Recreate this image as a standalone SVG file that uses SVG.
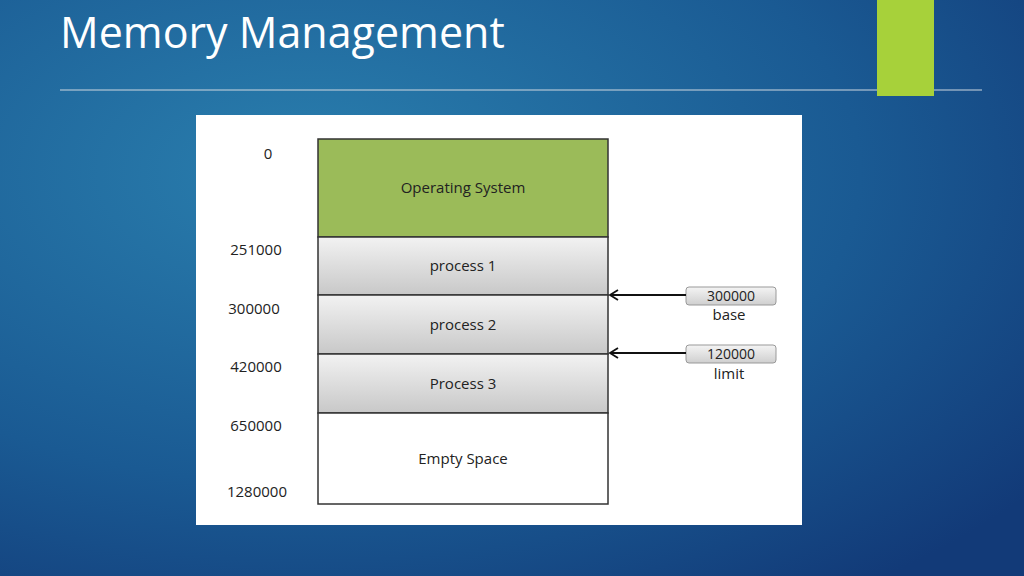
<svg xmlns="http://www.w3.org/2000/svg" width="1024" height="576" viewBox="0 0 1024 576">
<defs>
<radialGradient id="bg" cx="0.3" cy="0.3" r="0.9">
<stop offset="0" stop-color="#2a7fae"/><stop offset="0.6" stop-color="#1a5a93"/><stop offset="1" stop-color="#123a78"/>
</radialGradient>
<linearGradient id="proc" x1="0" y1="0" x2="0" y2="1">
<stop offset="0" stop-color="#f2f2f2"/><stop offset="1" stop-color="#c8c8c8"/>
</linearGradient>
<linearGradient id="tag" x1="0" y1="0" x2="0" y2="1">
<stop offset="0" stop-color="#f4f4f4"/><stop offset="1" stop-color="#cfcfcf"/>
</linearGradient>
<marker id="ah" markerWidth="12" markerHeight="12" refX="10" refY="6" orient="auto" markerUnits="userSpaceOnUse">
<path d="M2,1 L10,6 L2,11" fill="none" stroke="#111" stroke-width="1.8"/>
</marker>
<style>
.t{font-family:"Open Sans","Liberation Sans",sans-serif;font-size:15px;fill:#222}
.s{font-size:14px}
.blk{stroke:#333;stroke-width:1.5}
</style>
</defs>
<rect width="1024" height="576" fill="url(#bg)"/>
<text x="60" y="48" font-family="'Open Sans','Liberation Sans',sans-serif" font-size="43" fill="#ffffff">Memory Management</text>
<line x1="60" y1="90" x2="982" y2="90" stroke="#cfd8e0" stroke-width="1"/>
<rect x="877" y="0" width="57" height="96" fill="#a7d13a"/>
<rect x="196" y="115" width="606" height="410" fill="#ffffff"/>
<g id="os"><rect class="blk" x="318" y="139" width="290" height="98" fill="#9bbb59"/><text class="t" x="463" y="193" text-anchor="middle">Operating System</text></g>
<g id="p1"><rect class="blk" x="318" y="237" width="290" height="58" fill="url(#proc)"/><text class="t" x="463" y="271" text-anchor="middle">process 1</text></g>
<g id="p2"><rect class="blk" x="318" y="295" width="290" height="59" fill="url(#proc)"/><text class="t" x="463" y="330" text-anchor="middle">process 2</text></g>
<g id="p3"><rect class="blk" x="318" y="354" width="290" height="59" fill="url(#proc)"/><text class="t" x="463" y="389" text-anchor="middle">Process 3</text></g>
<g id="empty"><rect class="blk" x="318" y="413" width="290" height="91" fill="#ffffff"/><text class="t" x="463" y="464" text-anchor="middle">Empty Space</text></g>
<g id="addr">
<text class="t" x="268" y="159" text-anchor="middle">0</text>
<text class="t" x="256" y="255" text-anchor="middle">251000</text>
<text class="t" x="254" y="314" text-anchor="middle">300000</text>
<text class="t" x="256" y="372" text-anchor="middle">420000</text>
<text class="t" x="256" y="431" text-anchor="middle">650000</text>
<text class="t" x="257" y="497" text-anchor="middle">1280000</text>
</g>
<g id="base"><rect x="686" y="287" width="90" height="18" rx="3" fill="url(#tag)" stroke="#999"/><text class="t s" x="731" y="301" text-anchor="middle">300000</text><text class="t" x="729" y="320" text-anchor="middle">base</text></g>
<g id="limit"><rect x="686" y="345" width="90" height="18" rx="3" fill="url(#tag)" stroke="#999"/><text class="t s" x="731" y="359" text-anchor="middle">120000</text><text class="t" x="729" y="379" text-anchor="middle">limit</text></g>
<g id="connectors" stroke="#111" stroke-width="2">
<line x1="686" y1="295" x2="610" y2="295" marker-end="url(#ah)"/>
<line x1="686" y1="353" x2="610" y2="353" marker-end="url(#ah)"/>
</g>
</svg>
